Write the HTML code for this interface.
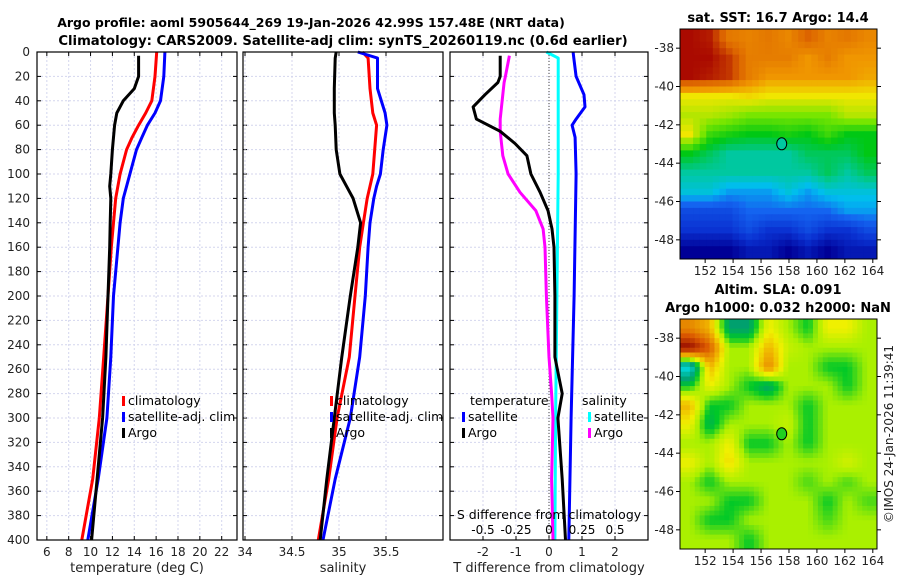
<!DOCTYPE html>
<html><head><meta charset="utf-8"><style>
html,body{margin:0;padding:0;background:#fff}
svg{display:block;font-family:"DejaVu Sans","Liberation Sans",sans-serif}
</style></head><body>
<svg id="chart" width="900" height="580" viewBox="0 0 900 580" xmlns="http://www.w3.org/2000/svg">
<text x="311" y="27" font-size="12.5" font-weight="bold" text-anchor="middle">Argo profile: aoml 5905644_269 19-Jan-2026 42.99S 157.48E (NRT data)</text>
<text x="343" y="45" font-size="13.2" font-weight="bold" text-anchor="middle">Climatology: CARS2009. Satellite-adj clim: synTS_20260119.nc (0.6d earlier)</text>
<text x="778" y="22" font-size="13" font-weight="bold" text-anchor="middle">sat. SST: 16.7 Argo: 14.4</text>
<text x="778" y="294" font-size="13" font-weight="bold" text-anchor="middle">Altim. SLA: 0.091</text>
<text x="778" y="312" font-size="13" font-weight="bold" text-anchor="middle">Argo h1000: 0.032 h2000: NaN</text>
<text transform="translate(893,434) rotate(-90)" font-size="12" text-anchor="middle" fill="#222">©IMOS 24-Jan-2026 11:39:41</text>
<g id="g"></g>
</svg>
<script>
// ---- profile data ----
const depthT = [0,20,40,50,60,70,80,100,120,140,160,200,250,300,350,400];
const tempClim = [16.05,15.9,15.6,15.05,14.4,13.8,13.3,12.7,12.3,12.1,11.9,11.6,11.2,10.8,10.2,9.2];
const tempSat = [16.8,16.7,16.4,15.9,15.2,14.7,14.2,13.6,13.0,12.7,12.5,12.1,11.85,11.5,10.7,9.75];
const depthArgo = [3,20,30,40,50,60,80,100,110,120,140,160,200,250,300,350,400];
const tempArgo = [14.4,14.4,14.0,13.0,12.4,12.2,12.0,11.85,11.75,11.85,11.8,11.75,11.6,11.4,11.1,10.6,10.1];
const depthS = [0,5,30,50,60,80,100,110,120,140,160,200,250,300,350,400];
const salClim = [35.25,35.31,35.33,35.36,35.40,35.38,35.36,35.33,35.30,35.26,35.22,35.17,35.11,34.98,34.89,34.78];
const salSat = [35.20,35.41,35.41,35.49,35.51,35.47,35.44,35.40,35.37,35.33,35.31,35.28,35.22,35.12,34.96,34.83];
const salArgo = [34.97,34.96,34.95,34.95,34.96,34.97,35.01,35.08,35.15,35.23,35.20,35.12,35.03,34.95,34.87,34.80];
const depthD = [3,20,25,35,45,55,65,75,85,100,115,130,145,160,200,250,280,300,350,400];
const tDiffArgo = [-1.48,-1.48,-1.55,-1.94,-2.3,-2.2,-1.48,-1.03,-0.67,-0.55,-0.27,-0.03,0.09,0.15,0.18,0.18,0.4,0.27,0.4,0.5];
const sDiffArgo = [-0.30,-0.33,-0.34,-0.35,-0.36,-0.37,-0.37,-0.36,-0.35,-0.31,-0.22,-0.10,-0.045,-0.03,-0.02,0.0,0.02,0.03,0.02,0.03];
const depthSat = [0,5,20,35,45,55,60,70,100,200,300,400];
const tDiffSat = [0.73,0.75,0.82,1.06,1.09,0.82,0.70,0.79,0.82,0.76,0.67,0.6];
const sDiffSat = [-0.02,0.07,0.07,0.07,0.07,0.07,0.07,0.07,0.07,0.06,0.05,0.045];
const depthTicks = [0,20,40,60,80,100,120,140,160,180,200,220,240,260,280,300,320,340,360,380,400];
const tempTicks = [6,8,10,12,14,16,18,20,22];
const salTicks = [34,34.5,35,35.5];
const salTickLabels = ["34","34.5","35","35.5"];
const tdTicks = [-2,-1,0,1,2];
const sdTicks = [-0.5,-0.25,0,0.25,0.5];
const sdTickLabels = ["-0.5","-0.25","0","0.25","0.5"];
// ---- map data (rows -37..-49 by 1 deg, 10 cols 150.2..164.3) ----
const latTicks = [-38,-40,-42,-44,-46,-48];
const lonTicks = [152,154,156,158,160,162,164];
const sstGrid = [
[19,18.8,17.6,17.4,17.6,17.3,18,17.4,17.6,17.3],
[19,19,18.5,17.5,17.5,17.5,17,17.5,17,17],
[19,18.8,18.5,17.5,17,17,17,17,17,16.8],
[16,16,16,16.2,16,16,16,16,16,16],
[15.5,15.5,15.3,15,15,15,15,15,15.5,15.5],
[16,14.5,14.2,14,14,14.2,14,14.5,14,14],
[14,13.5,13,13,13,13,13.5,13.5,13.5,14],
[13,13,13,13,13,13,13,13.5,13,13.5],
[12.5,12.5,12,12,12,12.5,12,12.5,12.5,12.5],
[11,11,11,11.5,11.5,11.5,11.5,11.5,12,12],
[10.5,10.5,10.5,11,10.5,10.5,11,10.5,10.5,11],
[9.5,9.5,9.5,10,10,9.5,10,9.5,10,10]];
const slaGrid = [
[0.15,0.1,-0.1,-0.1,0.05,0,-0.05,0.05,0.05,0],
[0.3,0.2,0,0,0.1,0.02,0,0,0,0],
[-0.2,0.1,0,0,0.15,0,0,-0.05,-0.05,0],
[-0.05,0.05,0,-0.05,-0.1,0,0,0,-0.05,0],
[0.1,-0.05,-0.05,0,0,0,-0.05,0,0,0],
[0.05,-0.08,0,0,0,0.02,-0.05,0,0,0],
[0,0,0.05,-0.05,-0.05,0,-0.05,0,0,0],
[0.05,0,0.07,0,0,0,0,0,0.03,0],
[0,-0.05,0,0,0,0,-0.03,0,-0.03,0],
[0,0,-0.05,-0.05,0,0,0,-0.05,0,-0.03],
[0,-0.05,-0.05,0,0,0,0,-0.03,0,0],
[0,0,0,-0.05,0,0,0,0,0,0]];
const argoPos = [157.48,-42.99];

const NS="http://www.w3.org/2000/svg", G=document.getElementById('g');
function mk(t,a,p){const e=document.createElementNS(NS,t);for(const k in a)e.setAttribute(k,a[k]);(p||G).appendChild(e);return e;}
const Y0=52,Y1=540;
const yD=d=>Y0+(d/400)*(Y1-Y0);
const xT=t=>37+(t-5.1)/(23.4-5.1)*200;
const xS=s=>245+(s-34)*94;
const xTD=d=>549+d*33;
const xSD=d=>549+d*132;

function panel(x0,x1,name,xt,ticks,labels,title){
  const g=mk('g',{});
  
  
  depthTicks.forEach(d=>{mk('line',{x1:x0,x2:x1,y1:yD(d),y2:yD(d),stroke:'#d4d6ee','stroke-dasharray':'2,2','stroke-width':1},g);
    mk('line',{x1:x0,x2:x0+4,y1:yD(d),y2:yD(d),stroke:'#000'},g);mk('line',{x1:x1-4,x2:x1,y1:yD(d),y2:yD(d),stroke:'#000'},g);});
  ticks.forEach((t,i)=>{const x=xt(t);mk('line',{x1:x,x2:x,y1:Y0,y2:Y1,stroke:'#d4d6ee','stroke-dasharray':'2,2'},g);
    mk('line',{x1:x,x2:x,y1:Y1-4,y2:Y1,stroke:'#000'},g);mk('line',{x1:x,x2:x,y1:Y0,y2:Y0+4,stroke:'#000'},g);
    const tx=mk('text',{x:x,y:556,'font-size':12,'text-anchor':'middle',fill:'#222'},g);tx.textContent=labels[i];
    });
  const tt=mk('text',{x:(x0+x1)/2,y:572,'font-size':13,'text-anchor':'middle',fill:'#222'},g);tt.textContent=title;
  
  return g;
}
function border(x0,x1){const r=mk('rect',{x:x0,y:Y0,width:x1-x0,height:Y1-Y0,fill:'none',stroke:'#000','stroke-width':1.2});
  }
function line(xs,ds,xf,col,name,w){const p=xs.map((v,i)=>xf(v).toFixed(1)+','+yD(ds[i]).toFixed(1)).join(' ');
  const e=mk('polyline',{points:p,fill:'none',stroke:col,'stroke-width':w||3,'stroke-linejoin':'round'});
  }
function legend(x,y,col,label){const r=mk('rect',{x:x,y:y-9,width:3,height:10,fill:col});
  
  const t=mk('text',{x:x+6,y:y,'font-size':12.5,fill:'#000'});t.textContent=label;
  }

depthTicks.forEach(d=>{const t=mk('text',{x:30,y:yD(d)+4,'font-size':12,'text-anchor':'end',fill:'#222'});t.textContent=d;
  });

panel(37,237,'temperature-panel',xT,tempTicks,tempTicks.map(String),'temperature (deg C)');
line(tempClim,depthT,xT,'#f00','temp-clim-line');
line(tempSat,depthT,xT,'#00f','temp-sat-line');
line(tempArgo,depthArgo,xT,'#000','temp-argo-line');
border(37,237);
legend(122,405,'#f00','climatology');legend(122,421,'#00f','satellite-adj. clim');legend(122,437,'#000','Argo');

panel(243,443,'salinity-panel',xS,salTicks,salTickLabels,'salinity');
line(salClim,depthS,xS,'#f00','sal-clim-line');
line(salSat,depthS,xS,'#00f','sal-sat-line');
line(salArgo,depthS,xS,'#000','sal-argo-line');
border(243,443);
legend(330,405,'#f00','climatology');legend(330,421,'#00f','satellite-adj. clim');legend(330,437,'#000','Argo');

panel(450,648,'difference-panel',xTD,tdTicks,tdTicks.map(String),'T difference from climatology');
const zl=mk('line',{x1:549,x2:549,y1:Y0,y2:Y1,stroke:'#444','stroke-dasharray':'1,2'});

line(sDiffSat,depthSat,xSD,'#0ff','sdiff-sat-line');
line(tDiffSat,depthSat,xTD,'#00f','tdiff-sat-line');
line(sDiffArgo,depthD,xSD,'#f0f','sdiff-argo-line');
line(tDiffArgo,depthD,xTD,'#000','tdiff-argo-line');
border(450,648);
{const t=mk('text',{x:470,y:405,'font-size':12.5});t.textContent='temperature';
 const s=mk('text',{x:582,y:405,'font-size':12.5});s.textContent='salinity';}
legend(462,421,'#00f','satellite');legend(462,437,'#000','Argo');
legend(588,421,'#0ff','satellite');legend(588,437,'#f0f','Argo');
{const t=mk('text',{x:549,y:519,'font-size':12.5,'text-anchor':'middle'});t.textContent='S difference from climatology';
 }
sdTicks.forEach((v,i)=>{const t=mk('text',{x:xSD(v),y:534,'font-size':12,'text-anchor':'middle'});t.textContent=sdTickLabels[i];
  });

// ---- maps ----
const MX0=680,MX1=877,LON0=150.2,LON1=164.3;
const mxf=l=>MX0+(l-LON0)/(LON1-LON0)*(MX1-MX0);
function lerpCol(stops,v){if(v<=stops[0][0])return stops[0][1];for(let i=1;i<stops.length;i++){if(v<=stops[i][0]){const a=stops[i-1],b=stops[i],f=(v-a[0])/(b[0]-a[0]);
  return 'rgb('+[0,1,2].map(k=>Math.round(a[1][k]+(b[1][k]-a[1][k])*f)).join(',')+')';}}return stops[stops.length-1][1];}
function cs(c){return Array.isArray(c)?'rgb('+c.join(',')+')':c;}
const sstStops=[[9.5,[0,0,150]],[10.5,[10,50,210]],[11.5,[20,100,240]],[12.3,[0,190,240]],[13,[0,200,160]],[14,[0,200,20]],[15,[120,230,0]],[16,[240,230,0]],[17,[240,150,0]],[18,[220,100,0]],[19,[170,10,0]]];
const slaStops=[[-0.2,[0,220,230]],[-0.1,[0,160,110]],[-0.05,[0,200,40]],[0,[170,240,0]],[0.05,[240,240,0]],[0.1,[240,180,0]],[0.2,[220,90,0]],[0.3,[150,10,0]]];
function sample(grid,fr,fc){ // bilinear on cell centres
  const R=grid.length,C=grid[0].length;
  let r=Math.min(Math.max(fr-0.5,0),R-1),c=Math.min(Math.max(fc-0.5,0),C-1);
  const r0=Math.floor(r),c0=Math.floor(c),r1=Math.min(r0+1,R-1),c1=Math.min(c0+1,C-1),a=r-r0,b=c-c0;
  return grid[r0][c0]*(1-a)*(1-b)+grid[r0][c1]*(1-a)*b+grid[r1][c0]*a*(1-b)+grid[r1][c1]*a*b;
}
function map(Y0m,grid,stops,name,sub){
  const Y1m=Y0m+230, myf=la=>Y0m+(-37-la)/12*(Y1m-Y0m);
  const g=mk('g',{});
  const R=grid.length,C=grid[0].length;
  const cw=(MX1-MX0)/(C*sub), ch=(Y1m-Y0m)/(R*sub);
  for(let i=0;i<R*sub;i++)for(let j=0;j<C*sub;j++){
    const v=sample(grid,(i+0.5)/sub,(j+0.5)/sub);
    const e=mk('rect',{x:(MX0+j*cw).toFixed(2),y:(Y0m+i*ch).toFixed(2),width:(cw+0.4).toFixed(2),height:(ch+0.4).toFixed(2),fill:cs(lerpCol(stops,v))},g);
    
  }
  mk('rect',{x:MX0,y:Y0m,width:MX1-MX0,height:Y1m-Y0m,fill:'none',stroke:'#000'},g);
  latTicks.forEach(la=>{const y=myf(la);mk('line',{x1:MX0-4,x2:MX0,y1:y,y2:y,stroke:'#000'},g);mk('line',{x1:MX1,x2:MX1+4,y1:y,y2:y,stroke:'#000'},g);
    const t=mk('text',{x:MX0-6,y:y+4,'font-size':12,'text-anchor':'end',fill:'#222'},g);t.textContent=la;
    });
  lonTicks.forEach(lo=>{const x=mxf(lo);mk('line',{x1:x,x2:x,y1:Y1m,y2:Y1m+4,stroke:'#000'},g);
    const t=mk('text',{x:x,y:Y1m+16,'font-size':12,'text-anchor':'middle',fill:'#222'},g);t.textContent=lo;
    });
  return {g,myf};
}
const m1=map(29,sstGrid,sstStops,'sst-map',3);
const c1=mk('ellipse',{cx:mxf(argoPos[0]),cy:m1.myf(argoPos[1]),rx:5,ry:6,fill:'#00c8a0',stroke:'#000'});

const m2=map(319,slaGrid,slaStops,'sla-map',4);
const c2=mk('ellipse',{cx:mxf(argoPos[0]),cy:m2.myf(argoPos[1]),rx:5,ry:6,fill:'#20d020',stroke:'#000'});

</script>
</body></html>
